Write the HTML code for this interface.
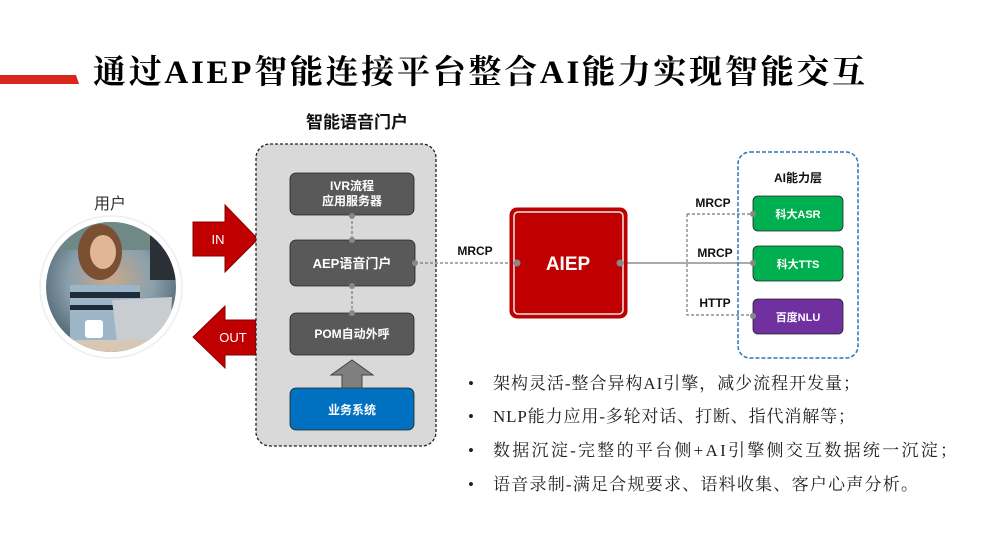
<!DOCTYPE html>
<html><head><meta charset="utf-8"><style>
body{margin:0;background:#fff;}
svg{display:block}
</style></head><body>
<svg width="993" height="534" viewBox="0 0 993 534" xmlns="http://www.w3.org/2000/svg" font-family="'Liberation Sans','Noto Sans CJK SC',sans-serif">
<defs>
<radialGradient id="ph" cx="0.5" cy="0.45" r="0.6">
<stop offset="0" stop-color="#c9a98a"/><stop offset="0.5" stop-color="#8aa0ad"/><stop offset="1" stop-color="#3f5460"/>
</radialGradient>
<clipPath id="cc"><circle cx="111" cy="287" r="65"/></clipPath>
</defs>
<polygon points="0,75 76,75 79,84 0,84" fill="#d9261c"/>
<text x="93" y="83" font-family="'Liberation Serif','Noto Serif CJK SC',serif" font-weight="bold" font-size="33" textLength="772" lengthAdjust="spacing" fill="#000">通过AIEP智能连接平台整合AI能力实现智能交互</text>
<text x="357" y="128" text-anchor="middle" font-weight="bold" font-size="17" fill="#111">智能语音门户</text>
<text x="110" y="209" text-anchor="middle" font-size="16" fill="#333">用户</text>
<circle cx="111" cy="287" r="71" fill="#fff" stroke="#eee" stroke-width="1.5"/>
<g clip-path="url(#cc)">
<rect x="40" y="220" width="142" height="135" fill="url(#ph)"/>
<rect x="40" y="220" width="142" height="30" fill="#6f8a86"/>
<rect x="150" y="230" width="35" height="50" fill="#2b2f36"/>
<ellipse cx="100" cy="252" rx="22" ry="28" fill="#7a4f32"/>
<ellipse cx="103" cy="252" rx="13" ry="17" fill="#e2b597"/>
<rect x="70" y="285" width="70" height="60" fill="#9cb6c7"/>
<rect x="70" y="292" width="70" height="6" fill="#1e2b3a"/>
<rect x="70" y="305" width="70" height="5" fill="#1e2b3a"/>
<polygon points="112,300 172,297 170,345 118,350" fill="#c8cdd1"/>
<rect x="40" y="340" width="142" height="20" fill="#d7c7b4"/>
<rect x="85" y="320" width="18" height="18" rx="3" fill="#fff"/>
</g>
<polygon points="193,222 225,222 225,205 258,239 225,272 225,256 193,256" fill="#c00000" stroke="#8a0000"/>
<text x="218" y="244" text-anchor="middle" font-size="13" fill="#fff">IN</text>
<polygon points="256,320 225,320 225,306 193,337 225,368 225,355 256,355" fill="#c00000" stroke="#8a0000"/>
<text x="233" y="342" text-anchor="middle" font-size="13" fill="#fff">OUT</text>
<rect x="256" y="144" width="180" height="302" rx="14" fill="#d9d9d9" stroke="#222" stroke-width="1.3" stroke-dasharray="3,2"/>
<g stroke="#777" stroke-dasharray="3,2" stroke-width="1.2" fill="none">
<line x1="352" y1="216" x2="352" y2="240"/><line x1="352" y1="286" x2="352" y2="313"/>
<line x1="415" y1="263" x2="517" y2="263"/>
<line x1="620" y1="263" x2="752" y2="263" stroke-dasharray="none"/>
<polyline points="687,214 752,214"/><polyline points="687,214 687,315 752,315"/>
</g>
<g fill="#595959" stroke="#222" stroke-width="0.8">
<rect x="290" y="173" width="124" height="42" rx="6"/>
<rect x="290" y="240" width="125" height="46" rx="6"/>
<rect x="290" y="313" width="124" height="42" rx="6"/>
</g>
<rect x="290" y="388" width="124" height="42" rx="6" fill="#0070c0" stroke="#222" stroke-width="0.8"/>
<polygon points="342,388 342,375 331,375 352,360 373,375 362,375 362,388" fill="#7f7f7f" stroke="#444"/>
<g fill="#fff" font-weight="bold" font-size="12" text-anchor="middle">
<text x="352" y="190">IVR流程</text><text x="352" y="205">应用服务器</text>
<text x="352" y="268" font-size="13">AEP语音门户</text>
<text x="352" y="338">POM自动外呼</text>
<text x="352" y="414">业务系统</text>
</g>
<g fill="#888"><circle cx="352" cy="216" r="3"/><circle cx="352" cy="240" r="3"/><circle cx="352" cy="286" r="3"/><circle cx="352" cy="313" r="3"/><circle cx="415" cy="263" r="3"/></g>
<text x="475" y="255" text-anchor="middle" font-weight="bold" font-size="12" fill="#111">MRCP</text>
<rect x="510" y="208" width="117" height="110" rx="7" fill="#c00000" stroke="#b00000"/>
<rect x="514" y="212" width="109" height="102" rx="4" fill="none" stroke="#e8e8e8" stroke-width="1.5"/>
<text x="568" y="270" text-anchor="middle" font-weight="bold" font-size="19" fill="#fff">AIEP</text>
<circle cx="517" cy="263" r="3.5" fill="#888"/><circle cx="620" cy="263" r="3.5" fill="#888"/>
<rect x="738" y="152" width="120" height="206" rx="12" fill="none" stroke="#2e75b6" stroke-width="1.5" stroke-dasharray="4,2"/>
<text x="798" y="182" text-anchor="middle" font-size="12" font-weight="bold" fill="#111">AI能力层</text>
<g font-weight="bold" font-size="12" fill="#111" text-anchor="middle">
<text x="713" y="207">MRCP</text><text x="715" y="257">MRCP</text><text x="715" y="307">HTTP</text>
</g>
<rect x="753" y="196" width="90" height="35" rx="5" fill="#00b050" stroke="#222" stroke-width="0.8"/>
<rect x="753" y="246" width="90" height="35" rx="5" fill="#00b050" stroke="#222" stroke-width="0.8"/>
<rect x="753" y="299" width="90" height="35" rx="5" fill="#7030a0" stroke="#222" stroke-width="0.8"/>
<g fill="#fff" font-weight="bold" font-size="11" text-anchor="middle">
<text x="798" y="218">科大ASR</text><text x="798" y="268">科大TTS</text><text x="798" y="321">百度NLU</text>
</g>
<g fill="#888"><circle cx="753" cy="214" r="3"/><circle cx="753" cy="263" r="3"/><circle cx="753" cy="316" r="3"/></g>
<g font-family="'Liberation Serif','Noto Serif CJK SC',serif" font-size="17" fill="#222">
<text x="468" y="389">•</text><text x="493" y="389" textLength="367" lengthAdjust="spacing">架构灵活-整合异构AI引擎，减少流程开发量；</text>
<text x="468" y="422">•</text><text x="493" y="422" textLength="362" lengthAdjust="spacing">NLP能力应用-多轮对话、打断、指代消解等；</text>
<text x="468" y="456">•</text><text x="493" y="456" textLength="464" lengthAdjust="spacing">数据沉淀-完整的平台侧+AI引擎侧交互数据统一沉淀；</text>
<text x="468" y="490">•</text><text x="493" y="490" textLength="425" lengthAdjust="spacing">语音录制-满足合规要求、语料收集、客户心声分析。</text>
</g>
</svg>
</body></html>
